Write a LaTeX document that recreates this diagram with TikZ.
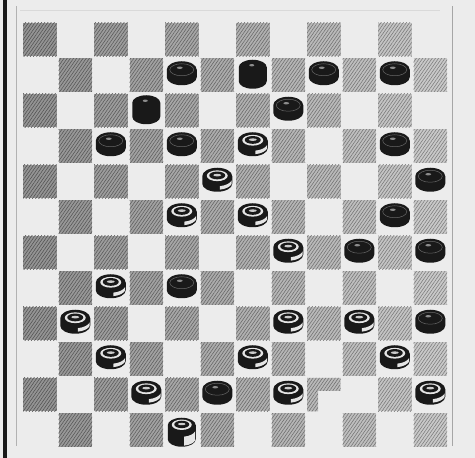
\documentclass[tikz,border=0pt]{standalone}
\usetikzlibrary{patterns.meta}
\definecolor{paper}{HTML}{ECECEC}
\tikzset{
  piecebody/.style={fill=black!90},
  manshape/.pic={
    \fill[piecebody] (-15,3.5) -- (-15,-4) arc[start angle=180,end angle=360,x radius=15,y radius=8]
      -- (15,3.5) arc[start angle=0,end angle=180,x radius=15,y radius=8.5] -- cycle;},
  kingshape/.pic={
    \fill[piecebody] (-14,7) -- (-14,-7) arc[start angle=180,end angle=360,x radius=14,y radius=7.5]
      -- (14,7) arc[start angle=0,end angle=180,x radius=14,y radius=7.5] -- cycle;},
  blackman/.pic={
    \pic{manshape};
    \draw[black!60,line width=0.5] (0,3.5) ellipse[x radius=12,y radius=6];
    \fill[black!45] (-2,5.5) ellipse[x radius=3,y radius=1.2];},
  whiteman/.pic={
    \pic{manshape};
    \fill[white!90!black] (0,4) ellipse[x radius=10.5,y radius=5.4];
    \fill[black!90] (0,4.3) ellipse[x radius=8,y radius=3.9];
    \fill[white!80!black] (0,4.6) ellipse[x radius=4,y radius=1.3];
    \fill[white!90!black] (2.6,-9.9) arc[start angle=280,end angle=345,x radius=15,y radius=8]
      -- ++(0,3.5) arc[start angle=345,end angle=280,x radius=15,y radius=8] -- cycle;},
  blackking/.pic={
    \pic{kingshape};
    \fill[black!45] (-1,9) ellipse[x radius=2.5,y radius=1.2];},
  whiteking/.pic={
    \pic{kingshape};
    \fill[white!90!black] (0,7.5) ellipse[x radius=10,y radius=5.2];
    \fill[black!90] (0,7.8) ellipse[x radius=7.5,y radius=3.7];
    \fill[white!80!black] (0,8.2) ellipse[x radius=3.8,y radius=1.2];
    \fill[white!90!black] (2.4,-13.4) arc[start angle=280,end angle=345,x radius=14,y radius=7.5]
      -- ++(0,9) arc[start angle=345,end angle=280,x radius=14,y radius=7.5] -- cycle;}
}
\begin{document}
\begin{tikzpicture}[x=1pt,y=1pt]
\useasboundingbox (0,0) rectangle (475,458);
\fill[paper] (0,0) rectangle (475,458);
% frame
\fill[black!90] (3,0) rectangle (7,458);
\draw[black!30,line width=0.8] (16,12) -- (16,452);
\draw[black!35,line width=1] (452,12) -- (452,452);
\draw[black!15,line width=0.6] (20,448) -- (440,448);
% hatched squares
\foreach \r in {1,...,12}{
  \foreach \c in {1,...,12}{
    \pgfmathtruncatemacro\parity{mod(\r+\c,2)}
    \pgfmathtruncatemacro\skipit{(\r==11)&&(\c==9)}
    \ifnum\parity=0 \ifnum\skipit=0
      \pgfmathsetmacro\xa{22+35.5*(\c-1)+1}
      \pgfmathsetmacro\ya{458-(22+35.5*(\r-1)+1)}
      \pgfmathsetmacro\lev{44-1.9*\c}
      \pgfmathsetmacro\levb{70-1.5*\c}
      \fill[black!\lev] (\xa,\ya) rectangle ++(33.5,-33.5);
      \fill[pattern={Lines[angle=55,distance=2.6pt,line width=0.55pt]},pattern color=black!\levb] (\xa,\ya) rectangle ++(33.5,-33.5);
    \fi\fi
  }
}
% partly hatched square (row 11, col 9)
\pgfmathsetmacro\xa{22+35.5*8+1}
\pgfmathsetmacro\ya{458-(22+35.5*10+1)}
\fill[black!27] (\xa,\ya) -- ++(33.5,0) -- ++(0,-13) -- ++(-22.5,0) -- ++(0,-20.5) -- ++(-11,0) -- cycle;
\fill[pattern={Lines[angle=55,distance=2.6pt,line width=0.55pt]},pattern color=black!57] (\xa,\ya) -- ++(33.5,0) -- ++(0,-13) -- ++(-22.5,0) -- ++(0,-20.5) -- ++(-11,0) -- cycle;
% pieces
\foreach \r/\c in {2/5,2/9,2/11,3/8,4/3,4/5,4/11,5/12,6/11,7/10,7/12,8/5,9/12,11/6}{
  \pic at ({22+35.5*(\c-0.5)},{458-(22+35.5*(\r-0.5))+2}) {blackman};}
\foreach \r/\c in {4/7,5/6,6/5,6/7,7/8,8/3,9/2,9/8,9/10,10/3,10/7,10/11,11/4,11/8,11/12}{
  \pic at ({22+35.5*(\c-0.5)},{458-(22+35.5*(\r-0.5))+2}) {whiteman};}
\foreach \r/\c in {2/7,3/4}{
  \pic at ({22+35.5*(\c-0.5)},{458-(22+35.5*(\r-0.5))+1}) {blackking};}
\pic at ({22+35.5*4.5},{458-(22+35.5*11.5)-2}) {whiteking};
\end{tikzpicture}
\end{document}
